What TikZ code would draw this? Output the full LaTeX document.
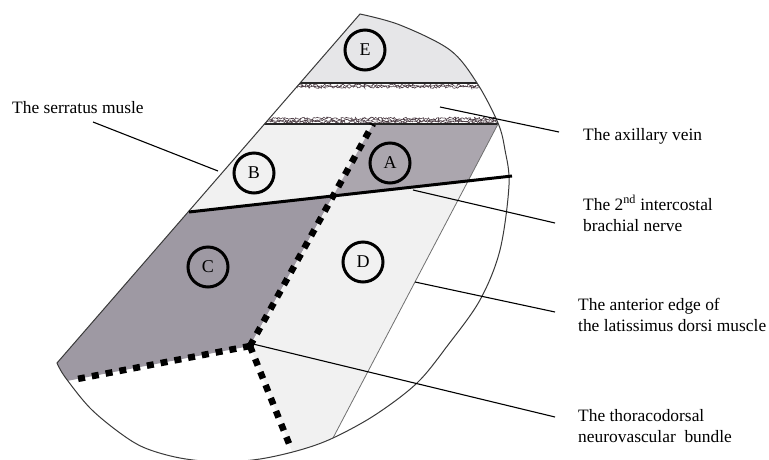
\documentclass[tikz,border=0pt]{standalone}
\usepackage{fontspec}
\setmainfont{Liberation Serif}
\usetikzlibrary{calc, decorations.pathmorphing}
\definecolor{ax-outline}{HTML}{3A3A3A}
\definecolor{ax-edge}{HTML}{707070}
\definecolor{ax-fuzz}{HTML}{4A3A42}
\definecolor{ax-e}{HTML}{E6E6E8}
\definecolor{ax-light}{HTML}{F1F1F1}
\definecolor{ax-a}{HTML}{ABA6AE}
\definecolor{ax-c}{HTML}{9E99A3}

% outline of the operative field (pixel coordinates, y downwards)
\def\outlinepath{(360,14) -- plot[smooth, tension=0.55] coordinates {(57,363) (65,377) (90,408) (120,433) (145,448) (180,458) (220,462) (260,459) (300,450) (333,438) (375,415) (417,383) (448,345) (480,300) (500,250) (509,185) (505,150) (498,123) (477,83) (450,50) (400,25) (360,14)} -- cycle}

\begin{document}
\begin{tikzpicture}[
    x=1pt, y=-1pt,
    zone/.style={circle, draw=black, line width=3pt, minimum size=40pt, inner sep=0pt, font=\fontsize{18}{18}\selectfont},
    lbl/.style={anchor=base west, align=left, inner sep=0pt, font=\fontsize{17.4}{21}\selectfont},
    leader/.style={draw=black, line width=1.1pt},
    cut/.style={draw=black, line width=6.5pt, dash pattern=on 7pt off 7pt},
    nerve/.style={draw=black, line width=3pt},
    veinedge/.style={draw=black!85, line width=1.8pt},
    fuzz/.style={draw=ax-fuzz, line width=0.6pt, decorate, decoration={random steps, segment length=1.2pt, amplitude=1.3pt}},
    edge/.style={draw=ax-edge, line width=0.8pt},
    outline/.style={draw=ax-outline, line width=1pt}
]
\useasboundingbox (0,0) rectangle (769,459);

% =========================================================================
% KEY POINTS
% =========================================================================
\coordinate (P1) at (373,124);
\coordinate (J)  at (250,346);
\coordinate (Q)  at (72,380);
\coordinate (K)  at (290,446);
\coordinate (NL) at (189,212);
\coordinate (NR) at (512,176);
\coordinate (LT) at (498,124);
\coordinate (LB) at (333,438);
\coordinate (X) at (intersection of P1--J and NL--NR);
\coordinate (N) at (intersection of LT--LB and NL--NR);

% =========================================================================
% REGIONS
% =========================================================================
\begin{scope}
\clip \outlinepath;
\fill[white] (0,0) rectangle (769,470);
\fill[ax-e] (0,0) rectangle (769,83);
\fill[ax-light] (27,124) -- (P1) -- (X) -- ($(NL)!-0.5!(NR)$) -- cycle;
\fill[ax-a] (P1) -- (LT) -- (N) -- (X) -- cycle;
\fill[ax-c] (X) -- ($(NL)!-0.5!(NR)$) -- ($(J)!1.3!(Q)$) -- (J) -- cycle;
\fill[ax-light] (X) -- (N) -- ($(LT)!1.15!(LB)$) -- ($(J)!1.4!(K)$) -- (J) -- cycle;

% axillary vein borders
\draw[fuzz] (250,85.5) -- (520,85.5);
\draw[fuzz] (250,87) -- (520,87);
\draw[veinedge] (0,83) -- (769,83);
\draw[fuzz] (240,118.5) -- (520,118.5);
\draw[fuzz] (240,120.5) -- (520,120.5);
\draw[fuzz] (240,122) -- (520,122);
\draw[veinedge] (0,124) -- (769,124);
\end{scope}

\draw[edge] (LT) -- (LB);
\draw[outline] \outlinepath;

% dissection lines
\draw[cut] (J) -- (P1);
\draw[cut] (J) -- (Q);
\draw[cut] (J) -- (K);
\draw[nerve] (NL) -- (NR);

% =========================================================================
% ZONES
% =========================================================================
\node[zone] (zE) at (365,50)  {E};
\node[zone] (zA) at (390,163) {A};
\node[zone] (zB) at (254,173) {B};
\node[zone] (zC) at (208,267) {C};
\node[zone] (zD) at (363,262) {D};

% =========================================================================
% LABELS
% =========================================================================
\node[lbl] (serratus) at (12,113)  {The serratus musle};
\node[lbl] (vein)     at (583,140) {The axillary vein};
\node[lbl] (nervelbl) at (583,231) {The 2\textsuperscript{nd} intercostal\\brachial nerve};
\node[lbl] (lat)      at (578,331) {The anterior edge of\\the latissimus dorsi muscle};
\node[lbl] (thoraco)  at (578,442) {The thoracodorsal\\neurovascular~ bundle};

\coordinate (serratuspt) at (218,171);
\coordinate (veinpt)     at (440,107);
\coordinate (nervept)    at (413,190);
\coordinate (latpt)      at (415,282);
\coordinate (thoracopt)  at (253,344);

\draw[leader] (serratuspt) -- ([shift={(81,9)}]serratus.base west);
\draw[leader] (veinpt)     -- ([shift={(-24,-8)}]vein.base west);
\draw[leader] (nervept)    -- ([shift={(-28,-8)}]nervelbl.base west);
\draw[leader] (latpt)      -- ([shift={(-23,-19)}]lat.base west);
\draw[leader] (thoracopt)  -- ([shift={(-23,-25)}]thoraco.base west);

\end{tikzpicture}
\end{document}
